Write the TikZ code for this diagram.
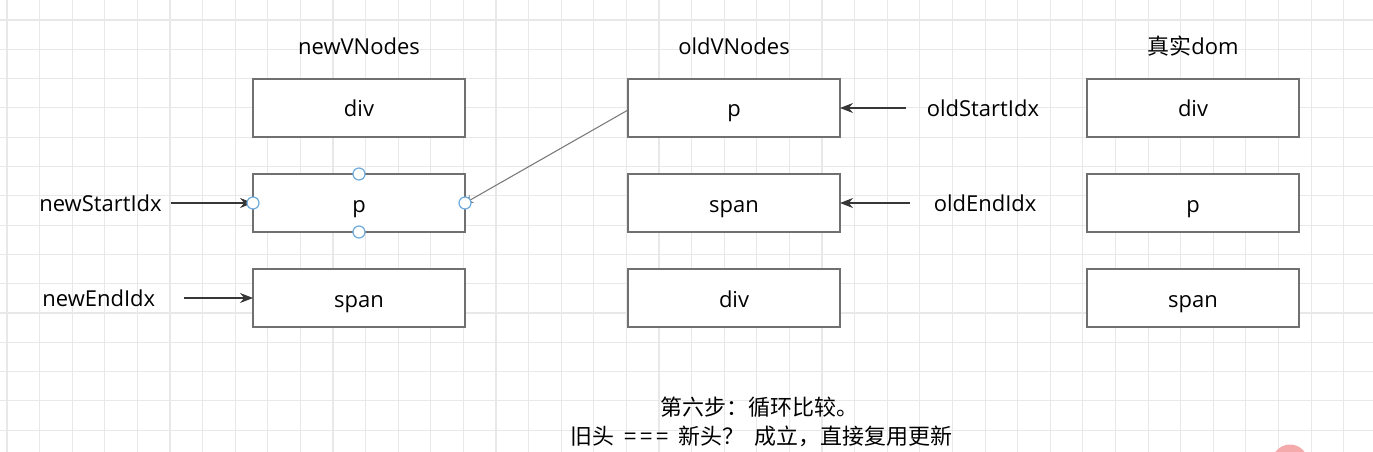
\documentclass[tikz,border=0pt]{standalone}
\usepackage{fontspec}
\setmainfont{Open Sans}
\newfontfamily\cjk{Noto Sans CJK SC}
\usepackage{tikz}
\usetikzlibrary{arrows.meta,positioning,calc}
\definecolor{boxgray}{RGB}{112,112,112}
\definecolor{gridgray}{RGB}{232,232,232}
\definecolor{arrgray}{RGB}{55,55,55}
\definecolor{linkgray}{RGB}{120,120,120}
\definecolor{hdlblue}{RGB}{110,170,220}
\definecolor{markpink}{RGB}{244,170,170}
\tikzset{
    vbox/.style={rectangle, draw=boxgray, fill=white, line width=0.9pt,
                 minimum width=4.24cm, minimum height=1.16cm, outer sep=0pt,
                 text height=0.42cm, text depth=0.06cm,
                 font=\fontsize{12.5}{15}\selectfont},
    hdr/.style={font=\fontsize{12.5}{15}\selectfont, inner sep=0pt},
    lbl/.style={font=\fontsize{12.5}{15}\selectfont, inner sep=2pt},
    note/.style={font=\fontsize{12.5}{15}\selectfont\cjk, inner sep=0pt},
    hdl/.style={circle, draw=hdlblue, fill=white, line width=0.7pt,
                minimum size=0.24cm, inner sep=0pt},
    arr/.style={-{Stealth[length=2.6mm,width=2mm]}, draw=arrgray, line width=0.6pt},
    link/.style={-{Stealth[length=1.6mm,width=1.8mm]}, draw=linkgray, line width=0.6pt},
}
\begin{document}
\begin{tikzpicture}[node distance=0.74cm and 3.26cm]
    \useasboundingbox (0,0) rectangle (27.46,-9.04);
    % background grid
    \foreach \gx in {0.14,0.792,...,27.4} \draw[gridgray, line width=0.6pt] (\gx,0) -- (\gx,-9.04);
    \foreach \gy in {0.4,0.986,...,9.0} \draw[gridgray, line width=0.6pt] (0,-\gy) -- (27.46,-\gy);

    % vnode columns
    \node[vbox] (newdiv) at (7.18,-2.16) {div};
    \node[vbox, below=of newdiv] (newp) {p};
    \node[vbox, below=of newp] (newspan) {span};
    \node[vbox, right=of newdiv] (oldp) {p};
    \node[vbox, below=of oldp] (oldspan) {span};
    \node[vbox, below=of oldspan] (olddiv) {div};
    \node[vbox, right=4.94cm of oldp] (realdiv) {div};
    \node[vbox, below=of realdiv] (realp) {p};
    \node[vbox, below=of realp] (realspan) {span};

    \node[hdr] (newhd) at ($(newdiv.north)+(0,0.66)$) {newVNodes};
    \node[hdr] (oldhd) at ($(oldp.north)+(0,0.66)$) {oldVNodes};
    \node[hdr] (realhd) at ($(realdiv.north)+(0,0.66)$) {{\cjk 真实}dom};

    % index pointers
    \node[lbl, left=1.75cm of newp] (nsi) {newStartIdx};
    \node[lbl, left=1.88cm of newspan] (nei) {newEndIdx};
    \node[lbl, right=1.66cm of oldp] (osi) {oldStartIdx};
    \node[lbl, right=1.8cm of oldspan] (oei) {oldEndIdx};
    \draw[arr] ([xshift=0.1cm]nsi.east) -- (newp.west);
    \draw[arr] ([xshift=0.5cm]nei.east) -- (newspan.west);
    \draw[arr] ([xshift=-0.35cm]osi.west) -- (oldp.east);
    \draw[arr] ([xshift=-0.4cm]oei.west) -- (oldspan.east);

    % old head matches new head
    \draw[link] ([yshift=-0.04cm]oldp.west) -- (newp.east);
    \foreach \a/\n in {north/hn, south/hs, west/hw, east/he}
        \node[hdl] (\n) at (newp.\a) {};

    \node[note] (step) at (15.19,-8.14) {第六步：循环比较。};
    \node[note] (rule) at (15.23,-8.72) {旧头\hspace{0.2cm}=\hspace{0.07cm}=\hspace{0.07cm}=\hspace{0.2cm}新头？\hspace{0.2cm}成立，直接复用更新};

    \fill[markpink] (25.8,-9.25) circle (0.36);
\end{tikzpicture}
\end{document}
